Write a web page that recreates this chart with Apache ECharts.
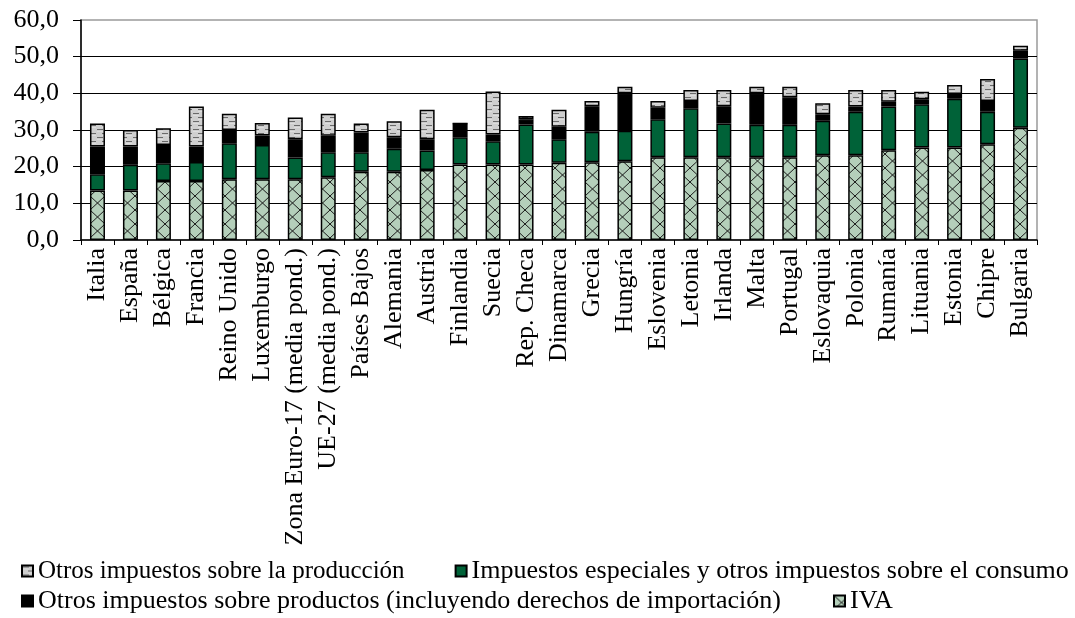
<!DOCTYPE html>
<html>
<head>
<meta charset="utf-8">
<script src="https://cdn.jsdelivr.net/npm/echarts@6/dist/echarts.min.js"></script>
<style>
html,body{margin:0;padding:0;background:#fff;}
#chart{width:1075px;height:618px;}
</style>
</head>
<body>
<div id="chart"></div>
<script>
var categories = ["Italia","España","Bélgica","Francia","Reino Unido","Luxemburgo","Zona Euro-17 (media pond.)","UE-27 (media pond.)","Países Bajos","Alemania","Austria","Finlandia","Suecia","Rep. Checa","Dinamarca","Grecia","Hungría","Eslovenia","Letonia","Irlanda","Malta","Portugal","Eslovaquia","Polonia","Rumanía","Lituania","Estonia","Chipre","Bulgaria"];
var iva = [13.5,13.5,16.1,16.1,16.6,16.6,16.6,17.1,18.6,18.6,19.1,20.6,20.6,20.6,21.1,21.2,21.5,22.6,22.6,22.6,22.6,22.6,23.1,23.1,24.5,25.2,25.2,26.1,30.6];
var especiales = [4.4,7.0,4.8,5.2,9.8,9.3,5.9,6.8,5.3,6.3,5.3,7.4,6.3,10.9,6.4,8.3,8.3,10.3,13.3,9.2,8.8,8.8,9.4,11.9,11.9,11.8,13.3,8.9,18.9];
var otrosProductos = [7.6,5.0,5.0,4.2,3.6,2.6,5.0,4.5,5.4,3.1,3.1,3.8,1.9,1.4,3.4,7.0,10.2,3.2,2.0,4.7,8.6,7.5,1.8,1.4,1.3,1.4,1.3,2.9,2.1];
var otrosProduccion = [6.3,4.5,4.6,10.9,4.4,3.4,5.9,6.0,2.5,4.4,8.0,0,11.7,0.9,4.6,1.4,1.8,1.8,3.0,4.4,1.8,2.9,3.0,4.5,3.2,2.0,2.5,6.0,1.4];
var yTicks = [0,10,20,30,40,50,60];
var seriesNames = ["Otros impuestos sobre la producción","Impuestos especiales y otros impuestos sobre el consumo","Otros impuestos sobre productos (incluyendo derechos de importación)","IVA"];

function makeCross(){
  var c=document.createElement('canvas');c.width=15;c.height=14;
  var g=c.getContext('2d');
  g.fillStyle='#b4cfba';g.fillRect(0,0,15,14);
  g.strokeStyle='#1a1a1a';g.lineWidth=1;
  g.beginPath();g.moveTo(0,0);g.lineTo(15,14);g.moveTo(15,0);g.lineTo(0,14);g.stroke();
  return c;
}
function makeDash(){
  var c=document.createElement('canvas');c.width=12;c.height=8;
  var g=c.getContext('2d');
  g.fillStyle='#cfcfcf';g.fillRect(0,0,12,8);
  g.fillStyle='#6a6a6a';
  g.fillRect(1,1,6,1.5);
  g.fillRect(6,5,6,1.5);
  g.fillStyle='#ffffff';
  g.fillRect(1,2.5,6,0.8);
  g.fillRect(6,6.5,6,0.8);
  return c;
}
var crossPat={image:makeCross(),repeat:'repeat'};
var dashPat={image:makeDash(),repeat:'repeat'};

var chart=echarts.init(document.getElementById('chart'),null,{renderer:'canvas'});
var font='Liberation Serif';
var baseItem={borderColor:'#000',borderWidth:1.5};
function bar(name,data,color){
  return {name:name,type:'bar',stack:'t',barWidth:15,data:data,
    itemStyle:Object.assign({color:color},baseItem),emphasis:{disabled:true}};
}
chart.setOption({
  animation:false,
  backgroundColor:'#fff',
  textStyle:{fontFamily:font,color:'#000'},
  grid:{left:81,right:38,top:20,bottom:378,show:true,borderColor:'#9a9a9a',borderWidth:1.5,backgroundColor:'transparent'},
  legend:[
    {data:[{name:seriesNames[0],textStyle:{fontSize:25}},seriesNames[1]],left:16,top:553,itemWidth:11,itemHeight:11,itemGap:50,
     textStyle:{fontFamily:font,fontSize:26,color:'#000'},icon:'rect',selectedMode:false},
    {data:[seriesNames[2],seriesNames[3]],left:16,top:583,itemWidth:11,itemHeight:11,itemGap:52,
     textStyle:{fontFamily:font,fontSize:26,color:'#000'},icon:'rect',selectedMode:false}
  ],
  xAxis:{type:'category',data:categories,
    axisLine:{lineStyle:{color:'#000',width:1.5}},
    axisTick:{show:true,length:5,lineStyle:{color:'#000',width:1}},
    axisLabel:{rotate:90,interval:0,margin:8,fontFamily:font,fontSize:26,color:'#000'}},
  yAxis:{type:'value',min:0,max:60,interval:10,
    axisLine:{show:true,lineStyle:{color:'#000',width:1.5}},
    axisTick:{show:true,length:8,lineStyle:{color:'#000',width:1}},
    splitLine:{show:true,showMaxLine:false,showMinLine:false,lineStyle:{color:'#000',width:1.2}},
    axisLabel:{margin:22,fontFamily:font,fontSize:26,color:'#000',
      formatter:function(v){return v.toFixed(1).replace('.',',');}}},
  series:[
    bar(seriesNames[3],iva,crossPat),
    bar(seriesNames[1],especiales,'#006238'),
    bar(seriesNames[2],otrosProductos,'#000000'),
    bar(seriesNames[0],otrosProduccion,dashPat)
  ]
});
</script>
</body>
</html>
